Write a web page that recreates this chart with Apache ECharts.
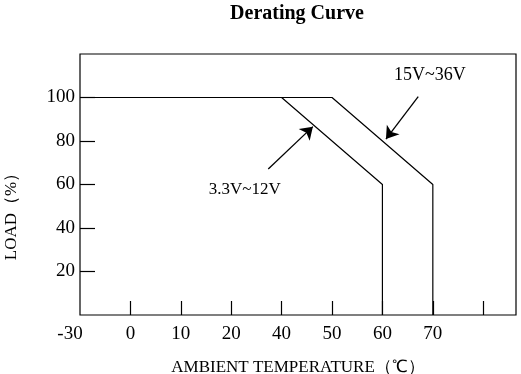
<!DOCTYPE html>
<html>
<head>
<meta charset="utf-8">
<script src="https://cdn.jsdelivr.net/npm/echarts@6/dist/echarts.min.js"></script>
<style>html,body{margin:0;padding:0;background:#fff}#c{width:521px;height:374px}</style>
</head>
<body>
<div id="c"></div>
<script>
// Axis tick labels (the reference axis is not linear: labels sit on equally spaced slots)
const tickLabels = ['-30', '0', '10', '20', '40', '50', '60', '70'];
const tickTemps = [-30, 0, 10, 20, 40, 50, 60, 70];
const loadTicks = [20, 40, 60, 80, 100];

// Derating curves (temperature °C, load %)
const temp3v3 = [-30, 40, 60, 60];
const load3v3 = [100, 100, 60, 0];
const temp15v = [-30, 50, 70, 70];
const load15v = [100, 100, 60, 0];

// Annotations
const annoNames = ['3.3V~12V', '15V~36V'];
const annoTemp = [25.4, 69.4];
const annoLoad = [57.7, 110.3];
const arrowFromTemp = [34.7, 67.1];
const arrowFromLoad = [67.1, 100.4];
const arrowToTemp = [46.2, 60.7];
const arrowToLoad = [86.6, 80.9];

// map a temperature onto the equally spaced label slots (slot index - 1)
function slot(t) {
  for (let i = 0; i < tickTemps.length - 1; i++) {
    const a = tickTemps[i], b = tickTemps[i + 1];
    if (t >= a && t <= b) return (i - 1) + (t - a) / (b - a);
  }
  const n = tickTemps.length;
  return (n - 2) + (t - tickTemps[n - 1]) / (tickTemps[n - 1] - tickTemps[n - 2]);
}
function labelOfSlot(v) {
  const i = Math.round(v) + 1;
  return tickLabels[i] !== undefined ? tickLabels[i] : '';
}

const font = 'Liberation Serif';
const black = '#000';

const chart = echarts.init(document.getElementById('c'), null, {renderer: 'canvas'});
chart.setOption({
  animation: false,
  backgroundColor: '#fff',
  title: {
    text: 'Derating Curve',
    left: 292, top: -1, textAlign: 'center',
    textStyle: {fontFamily: font, fontSize: 20, fontWeight: 'bold', color: black}
  },
  grid: {
    left: 80, right: 5, top: 54, bottom: 59,
    outerBoundsMode: 'none', containLabel: false,
    show: true, borderColor: black, borderWidth: 1.2, backgroundColor: 'transparent'
  },
  xAxis: {
    type: 'value', min: -1, max: 7.65,
    axisLine: {show: false, onZero: false},
    splitLine: {show: false},
    axisTick: {
      show: true, inside: true, length: 14,
      customValues: tickLabels.slice(1).map((_, i) => i).concat([tickLabels.length - 1]),
      lineStyle: {color: black, width: 1.2}
    },
    axisLabel: {
      customValues: tickTemps.map(t => slot(t)),
      margin: 10,
      color: black, fontFamily: font, fontSize: 19,
      formatter: function (v) {
        const s = labelOfSlot(v);
        return v < -0.5 ? '{first|' + s + '}' : s;
      },
      rich: {first: {fontFamily: font, fontSize: 19, color: black, padding: [0, 20, 0, 0]}}
    },
    name: 'AMBIENT TEMPERATURE（℃）',
    nameLocation: 'middle', nameGap: 44,
    nameTextStyle: {fontFamily: font, fontSize: 17, color: black}
  },
  yAxis: {
    type: 'value', min: 0, max: 120,
    axisLine: {show: false, onZero: false},
    splitLine: {show: false},
    axisTick: {
      show: true, inside: true, length: 15,
      customValues: loadTicks,
      lineStyle: {color: black, width: 1.2}
    },
    axisLabel: {
      customValues: loadTicks,
      margin: 5,
      color: black, fontFamily: font, fontSize: 19
    },
    name: 'LOAD（%）',
    nameLocation: 'middle', nameGap: 60, nameRotate: 90,
    nameTextStyle: {fontFamily: font, fontSize: 17, color: black, padding: [0, 56, 0, 0]}
  },
  series: [
    {
      name: annoNames[0],
      type: 'line', symbol: 'none',
      lineStyle: {color: black, width: 1.2},
      data: temp3v3.map((t, i) => [slot(t), load3v3[i]]),
      markLine: {
        silent: true, symbol: ['none', 'arrow'], symbolSize: 12,
        lineStyle: {color: black, width: 1.3, type: 'solid'},
        label: {show: false},
        data: [[
          {coord: [slot(arrowFromTemp[0]), arrowFromLoad[0]]},
          {coord: [slot(arrowToTemp[0]), arrowToLoad[0]]}
        ]]
      },
      markPoint: {
        silent: true, symbol: 'circle', symbolSize: 0,
        label: {show: true, position: 'inside', formatter: '{b}', color: black, fontFamily: font, fontSize: 17},
        data: [{name: annoNames[0], coord: [slot(annoTemp[0]), annoLoad[0]]}]
      }
    },
    {
      name: annoNames[1],
      type: 'line', symbol: 'none',
      lineStyle: {color: black, width: 1.2},
      data: temp15v.map((t, i) => [slot(t), load15v[i]]),
      markLine: {
        silent: true, symbol: ['none', 'arrow'], symbolSize: 12,
        lineStyle: {color: black, width: 1.3, type: 'solid'},
        label: {show: false},
        data: [[
          {coord: [slot(arrowFromTemp[1]), arrowFromLoad[1]]},
          {coord: [slot(arrowToTemp[1]), arrowToLoad[1]]}
        ]]
      },
      markPoint: {
        silent: true, symbol: 'circle', symbolSize: 0,
        label: {show: true, position: 'inside', formatter: '{b}', color: black, fontFamily: font, fontSize: 18},
        data: [{name: annoNames[1], coord: [slot(annoTemp[1]), annoLoad[1]]}]
      }
    }
  ]
});
</script>
</body>
</html>
